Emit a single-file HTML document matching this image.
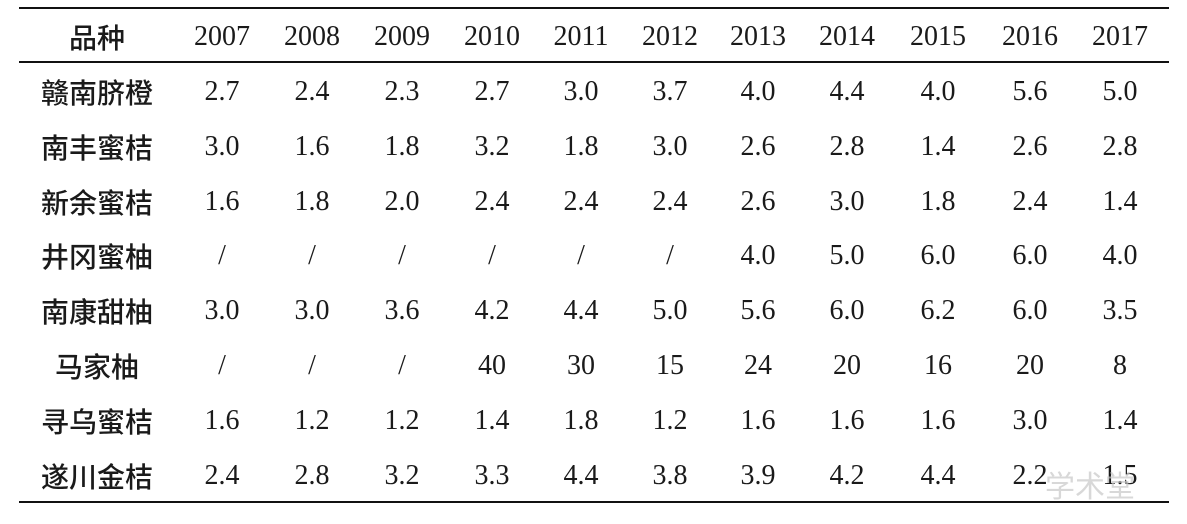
<!DOCTYPE html>
<html><head><meta charset="utf-8"><style>
body{margin:0;background:#fff;width:1187px;height:524px;position:relative;overflow:hidden;font-family:"Liberation Serif","Noto Serif CJK SC",serif;color:#1a1a1a}
.rule{position:absolute;left:19px;width:1150px;background:#111}
.c{position:absolute;transform:translate(-50%,-50%);white-space:nowrap;font-size:28px}
.cn{font-family:"Noto Sans CJK SC","WenQuanYi Zen Hei",sans-serif;font-size:28px;font-weight:500}
</style></head><body>
<div class="rule" style="top:7px;height:2px"></div>
<div class="rule" style="top:61px;height:2px"></div>
<div class="rule" style="top:501px;height:2px"></div>
<div id="t"></div>
<div style="position:absolute;left:1045px;top:462px;font-family:'Noto Sans CJK SC',sans-serif;font-size:30px;color:rgba(200,200,200,0.7)">学术堂</div>
<script>
const years=["2007","2008","2009","2010","2011","2012","2013","2014","2015","2016","2017"];
const varieties=["赣南脐橙","南丰蜜桔","新余蜜桔","井冈蜜柚","南康甜柚","马家柚","寻乌蜜桔","遂川金桔"];
const values=[
["2.7","2.4","2.3","2.7","3.0","3.7","4.0","4.4","4.0","5.6","5.0"],
["3.0","1.6","1.8","3.2","1.8","3.0","2.6","2.8","1.4","2.6","2.8"],
["1.6","1.8","2.0","2.4","2.4","2.4","2.6","3.0","1.8","2.4","1.4"],
["/","/","/","/","/","/","4.0","5.0","6.0","6.0","4.0"],
["3.0","3.0","3.6","4.2","4.4","5.0","5.6","6.0","6.2","6.0","3.5"],
["/","/","/","40","30","15","24","20","16","20","8"],
["1.6","1.2","1.2","1.4","1.8","1.2","1.6","1.6","1.6","3.0","1.4"],
["2.4","2.8","3.2","3.3","4.4","3.8","3.9","4.2","4.4","2.2","1.5"]];
const colX=[97,222,312,402,492,581,670,758,847,938,1030,1120];
const t=document.getElementById('t');
function cell(txt,x,y,cls,name){const d=document.createElement('div');d.className='c '+cls;d.style.left=x+'px';d.style.top=y+'px';d.textContent=txt;


t.appendChild(d);}
cell("品种",colX[0],37,'cn','header-variety');
years.forEach((y,i)=>cell(y,colX[i+1],37,'','header-'+y));
varieties.forEach((v,r)=>{const y=92+r*54.8;cell(v,colX[0],y,'cn','row-label');
values[r].forEach((val,i)=>cell(val,colX[i+1],y,'','cell-value'));});
</script>
</body></html>
